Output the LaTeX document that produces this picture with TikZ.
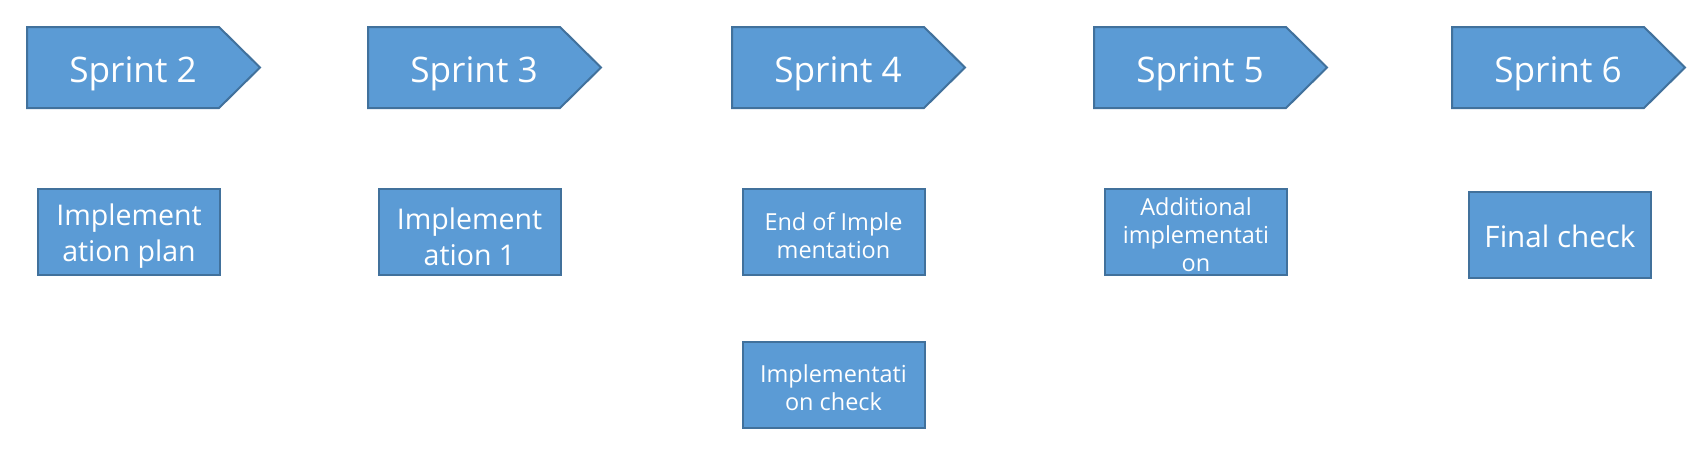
\documentclass[tikz,border=0pt]{standalone}
\usepackage{fontspec}
\setmainfont{Open Sans}
\definecolor{fillb}{HTML}{5B9BD5}
\definecolor{edgeb}{HTML}{41719C}
\newcommand{\sprintarrow}[3]{%
  \draw[arrowshape] (#2+1,27) -- (#2+193,27) -- (#2+234,67.5) -- (#2+193,108) -- (#2+1,108) -- cycle;
  \node[sprinttext] (#1) at (#2+107,82) {#3};}
\begin{document}
\begin{tikzpicture}[x=0.75pt,y=-0.75pt,
  arrowshape/.style={fill=fillb,draw=edgeb,line width=1.5pt,line join=miter},
  sprinttext/.style={text=white,font=\fontsize{26.4}{32}\selectfont,inner sep=0pt,anchor=base},
  taskbox/.style={fill=fillb,draw=edgeb,line width=1.5pt,inner sep=0pt,
    minimum width=136.5pt,minimum height=64.5pt},
  tasktext/.style={text=white,align=center,inner sep=0pt},
  bigtext/.style={tasktext,font=\fontsize{21.4}{27}\selectfont},
  smalltext/.style={tasktext,font=\fontsize{17.6}{21}\selectfont}
]
\useasboundingbox (0,0) rectangle (1707,457);
\sprintarrow{s2}{26}{Sprint 2}
\sprintarrow{s3}{367}{Sprint 3}
\sprintarrow{s4}{731}{Sprint 4}
\sprintarrow{s5}{1093}{Sprint 5}
\sprintarrow{s6}{1451}{Sprint 6}

\node[taskbox] (plan) at (129,232) {};
\node[bigtext] (plantext) at ([yshift=-3.3pt]plan.center) {Implement\\ation plan};
\node[taskbox] (impl1) at (469.5,232) {};
\node[bigtext] (impl1text) at ([yshift=-3.3pt]impl1.center) {Implement\\ation 1};
\node[taskbox] (endimpl) at (833.5,232) {};
\node[smalltext] (endimpltext) at ([yshift=-3pt]endimpl.center) {End of Imple\\mentation};
\node[taskbox] (check) at (833.5,384.5) {};
\node[smalltext] (checktext) at ([yshift=-2.5pt]check.center) {Implementati\\on check};
\node[taskbox] (addl) at (1196,232) {};
\node[smalltext] (addltext) at ([yshift=-2pt]addl.center) {Additional\\implementati\\on};
\node[taskbox] (final) at (1560,234.5) {};
\node[tasktext,font=\fontsize{22.2}{27}\selectfont] (finaltext) at ([yshift=-1.5pt]final.center) {Final check};
\end{tikzpicture}
\end{document}
